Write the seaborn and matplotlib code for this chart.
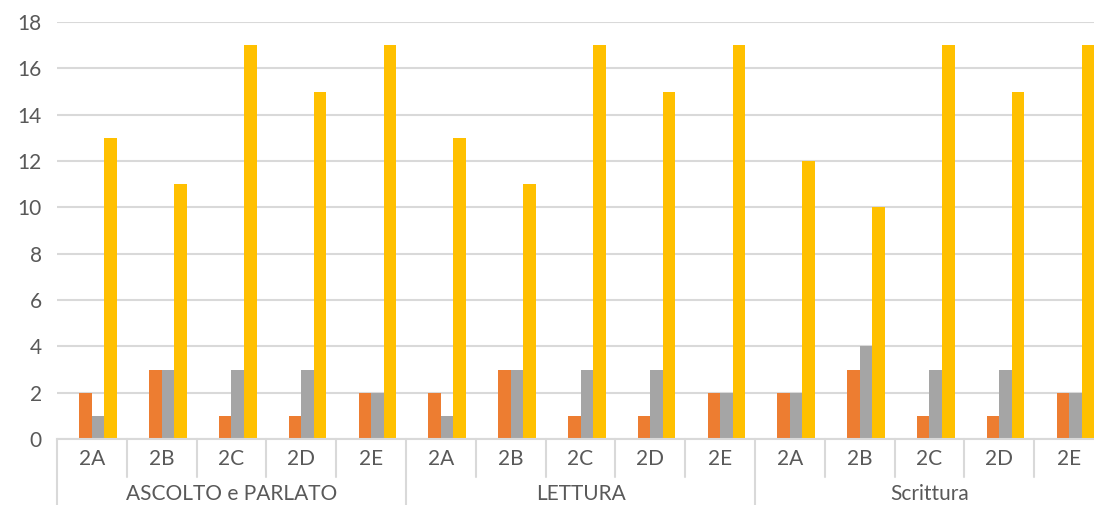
import numpy as np
import pandas as pd
import matplotlib
matplotlib.use('Agg')
import matplotlib.pyplot as plt
import matplotlib.transforms as mtransforms
import seaborn as sns

# ========== 数据 ==========
groups = ['ASCOLTO e PARLATO', 'LETTURA', 'Scrittura']
classes = ['2A', '2B', '2C', '2D', '2E']
series_names = ['Serie1', 'Serie2', 'Serie3', 'Serie4']
serie1 = [0, 0, 0, 0, 0,   0, 0, 0, 0, 0,   0, 0, 0, 0, 0]
serie2 = [2, 3, 1, 1, 2,   2, 3, 1, 1, 2,   2, 3, 1, 1, 2]
serie3 = [1, 3, 3, 3, 2,   1, 3, 3, 3, 2,   2, 4, 3, 3, 2]
serie4 = [13, 11, 17, 15, 17,   13, 11, 17, 15, 17,   12, 10, 17, 15, 17]
colors = ['#4472C4', '#ED7D31', '#A5A5A5', '#FFC000']
yticks = [0, 2, 4, 6, 8, 10, 12, 14, 16, 18]

keys = [g + '|' + c for g in groups for c in classes]
rows = []
for name, vals in zip(series_names, [serie1, serie2, serie3, serie4]):
    for k, v in zip(keys, vals):
        rows.append({'cat': k, 'serie': name, 'val': v})
df = pd.DataFrame(rows)

# ========== 绘图 ==========
sns.set_style('white')
plt.rcParams['font.family'] = ['Lato', 'DejaVu Sans']
txt = '#595959'
grid_c = '#D9D9D9'
fs = 15

fig = plt.figure(figsize=(10.94, 5.05), dpi=100)
# 右侧被裁切：坐标区超出画布
ax = fig.add_axes([57 / 1094, 66 / 505, 1047 / 1094, (439 - 22) / 505])

sns.barplot(data=df, x='cat', y='val', hue='serie', order=keys,
            hue_order=series_names, palette=colors, width=0.72,
            saturation=1, legend=False, ax=ax, linewidth=0)

ax.set_ylim(0, 18)
ax.set_xlim(-0.5, len(keys) - 0.5)
ax.set_yticks(yticks)
ax.set_yticklabels([str(t) for t in yticks], color=txt, fontsize=fs)
ax.tick_params(axis='y', length=0, pad=11)
ax.set_xticks([])
ax.set_xlabel('')
ax.set_ylabel('')
for s in ['top', 'right', 'left']:
    ax.spines[s].set_visible(False)
ax.spines['bottom'].set_color(grid_c)
ax.spines['bottom'].set_linewidth(1.5)
ax.yaxis.grid(True, color=grid_c, linewidth=1.5)
ax.set_axisbelow(True)

# 分层坐标轴标签
trans = mtransforms.blended_transform_factory(ax.transData, fig.transFigure)
y_axis = 66 / 505
y_cls = 1 - 459 / 505
y_grp = 1 - 494 / 505
y_mid = 1 - 477 / 505
for i, k in enumerate(keys):
    ax.text(i, y_cls, k.split('|')[1], transform=trans, ha='center', va='center',
            color=txt, fontsize=fs, clip_on=False)
for j, g in enumerate(groups):
    ax.text(j * 5 + 2, y_grp, g, transform=trans, ha='center', va='center',
            color=txt, fontsize=fs, clip_on=False)
for i in range(len(keys) + 1):
    x = i - 0.5
    if i % 5 == 0:
        ax.plot([x, x], [y_axis, 0], transform=trans, color=grid_c, lw=1.5, clip_on=False)
    else:
        ax.plot([x, x], [y_axis, y_mid], transform=trans, color=grid_c, lw=1.5, clip_on=False)

plt.savefig('out.png', dpi=100)
